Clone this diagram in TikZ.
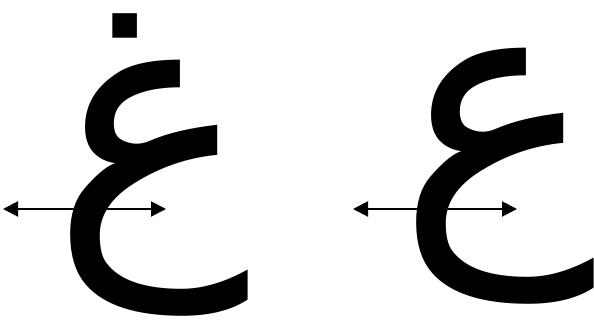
\documentclass[tikz,border=0pt]{standalone}
\usepackage{fontspec}
\newfontfamily\arabicfont[Script=Arabic]{DejaVu Sans}
\TeXXeTstate=1
\usetikzlibrary{arrows.meta}
\tikzset{
  glyph/.style={inner sep=0pt, outer sep=0pt, font=\arabicfont\fontsize{335}{335}\selectfont},
  dbl/.style={line width=2pt, {Triangle[length=15pt,width=15pt]}-{Triangle[length=15pt,width=15pt]}}
}
\begin{document}
\begin{tikzpicture}[x=1pt,y=-1pt]
\useasboundingbox (0,0) rectangle (594,327);
\node[glyph] (ghain) at (151,165) {\beginR غ\endR};
\node[glyph] (ain) at (497,176) {\beginR ع\endR};
\coordinate (a1) at (3,209);
\coordinate (a2) at (166,209);
\coordinate (b1) at (353,209);
\coordinate (b2) at (517,209);
\draw[dbl] (a1) -- (a2);
\draw[dbl] (b1) -- (b2);
\end{tikzpicture}
\end{document}
